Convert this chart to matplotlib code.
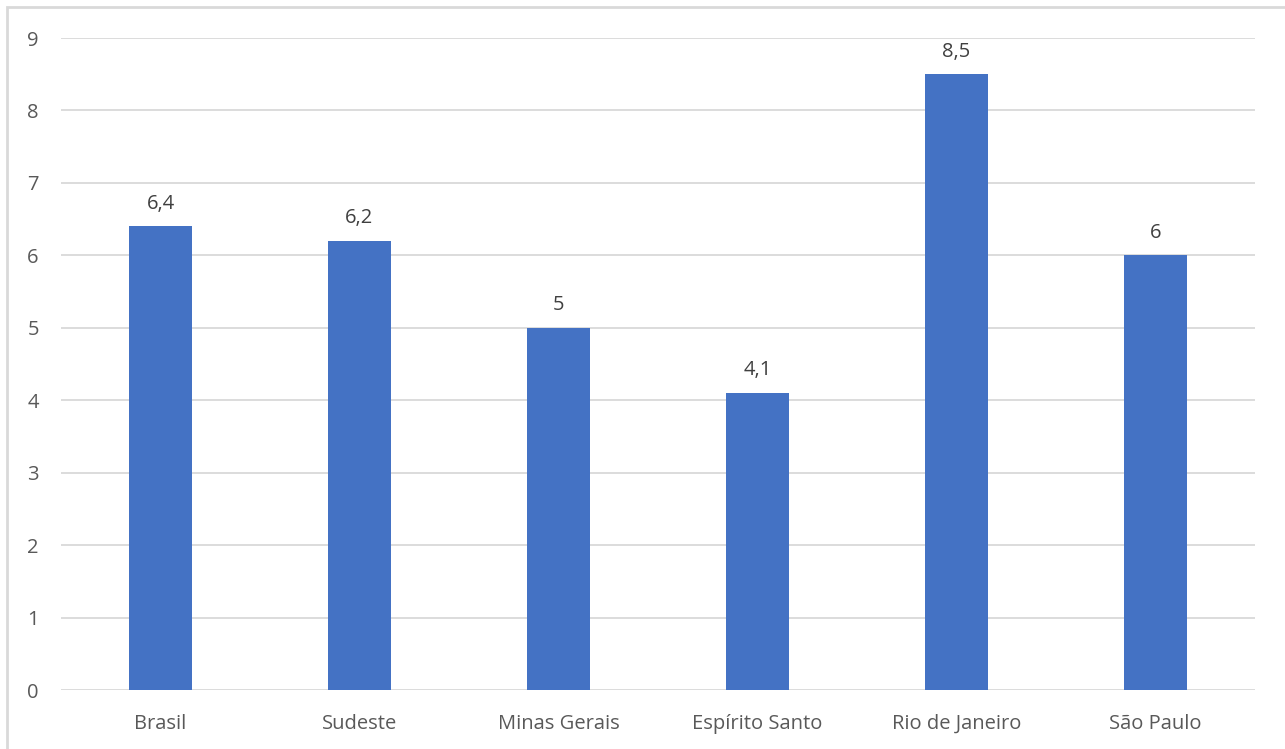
import matplotlib.pyplot as plt
from matplotlib.patches import Rectangle

# categories and values
regioes = ["Brasil", "Sudeste", "Minas Gerais", "Espírito Santo", "Rio de Janeiro", "São Paulo"]
valores = [6.4, 6.2, 5.0, 4.1, 8.5, 6.0]
yticks = [0, 1, 2, 3, 4, 5, 6, 7, 8, 9]

azul = "#4472C4"
cinza_txt = "#595959"
cinza_grid = "#D9D9D9"

plt.rcParams['font.family'] = ['Open Sans', 'DejaVu Sans']

fig = plt.figure(figsize=(12.85, 7.49), dpi=100)
ax = fig.add_axes([61 / 1285, 1 - 690 / 749, (1255 - 61) / 1285, (690 - 38) / 749])

x = range(len(regioes))
bars = ax.bar(x, valores, width=0.32, color=azul, zorder=3)

for xi, v in zip(x, valores):
    txt = f"{v:g}".replace(".", ",")
    ax.annotate(txt, (xi, v), xytext=(0, 9), textcoords="offset points",
                ha="center", va="bottom", fontsize=14.5, color="#404040")

ax.set_xlim(-0.5, len(regioes) - 0.5)
ax.set_ylim(0, 9)
ax.set_yticks(yticks)
ax.set_xticks(list(x))
ax.set_xticklabels(regioes)
ax.tick_params(axis="both", length=0, labelsize=14.5, labelcolor=cinza_txt)
ax.tick_params(axis="y", pad=16)
ax.tick_params(axis="x", pad=17)
ax.yaxis.grid(True, color=cinza_grid, lw=1.3, zorder=0)
for s in ax.spines.values():
    s.set_visible(False)

# chart frame
fig.patches.append(Rectangle((7 / 1285, -0.05), 1.2, 1 - 7 / 749 + 0.05,
                             transform=fig.transFigure, fill=False,
                             edgecolor=cinza_grid, lw=2))

fig.savefig("out.png", dpi=100)
